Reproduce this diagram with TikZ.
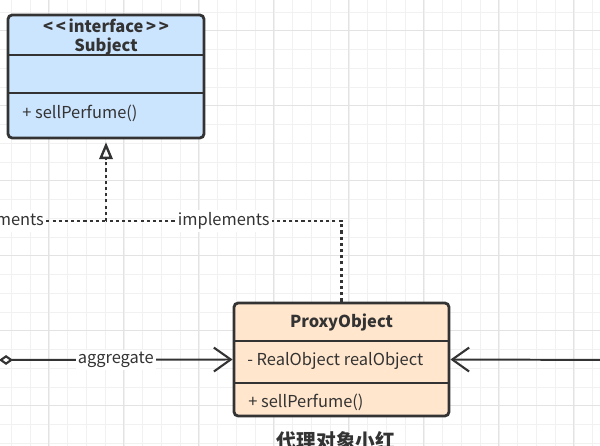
\documentclass[tikz,border=0pt]{standalone}
\usepackage{fontspec}
\setmainfont{Noto Sans CJK SC}
\usepackage{tikz}
\usetikzlibrary{arrows.meta, positioning, calc}

\definecolor{subjfill}{HTML}{CCE5FF}
\definecolor{proxyfill}{HTML}{FFE6CC}
\definecolor{edgegray}{HTML}{333333}
\definecolor{gridminor}{HTML}{F1F1F1}
\definecolor{gridmajor}{HTML}{E3E3E3}

\begin{document}
\begin{tikzpicture}[x=0.025cm, y=-0.025cm,
    umlbox/.style={draw=edgegray, line width=2pt, rounded corners=3pt, inner sep=0pt},
    txt/.style={text=edgegray, inner sep=0pt, font=\fontsize{11.7}{13}\selectfont},
    lbl/.style={txt, fill=white, inner sep=1.5pt},
    realize/.style={draw=edgegray, line width=1.6pt, dash pattern=on 2.2pt off 2.2pt},
    assoc/.style={draw=edgegray, line width=1.4pt}]
    \useasboundingbox (0,0) rectangle (600,446);

    % grid
    \begin{scope}
        \clip (0,0) rectangle (600,446);
        \fill[white] (0,0) rectangle (600,446);
        \foreach \x in {-7.25,11.5,...,600}
            \draw[gridminor, line width=0.5pt] (\x,0) -- (\x,446);
        \foreach \y in {-6.8,11.95,...,446}
            \draw[gridminor, line width=0.5pt] (0,\y) -- (600,\y);
        \foreach \x in {48.3,123.3,...,600}
            \draw[gridmajor, line width=0.6pt] (\x,0) -- (\x,446);
        \foreach \y in {30.7,105.7,...,446}
            \draw[gridmajor, line width=0.6pt] (0,\y) -- (600,\y);
    \end{scope}

    % interface Subject
    \node[umlbox, fill=subjfill, minimum width=4.9cm, minimum height=3.075cm] (subject) at (106,76.5) {};
    \draw[edgegray, line width=2pt] (8,55) -- (204,55);
    \draw[edgegray, line width=2pt] (8,93) -- (204,93);
    \node[txt, font=\fontsize{11.7}{13}\selectfont\bfseries] (stereo) at (106,26) {<\,<\,interface\,>\,>};
    \node[txt, font=\fontsize{11.7}{13}\selectfont\bfseries] (subjname) at (106,46) {Subject};
    \node[txt, anchor=west] (subjop) at (22,113) {+ sellPerfume()};

    % ProxyObject
    \node[umlbox, fill=proxyfill, minimum width=5.375cm, minimum height=2.825cm] (proxy) at (341.5,359.5) {};
    \draw[edgegray, line width=2pt] (234,341) -- (449,341);
    \draw[edgegray, line width=2pt] (234,383) -- (449,383);
    \node[txt, font=\fontsize{11.7}{13}\selectfont\bfseries] (proxyname) at (341.5,322) {ProxyObject};
    \node[txt, anchor=west] (proxyattr) at (247,361) {- RealObject realObject};
    \node[txt, anchor=west] (proxyop) at (248,402) {+ sellPerfume()};
    \node[txt, font=\fontsize{14}{16}\selectfont\bfseries] (proxycap) at (336,441) {代理对象小红};

    % implements
    \coordinate (junc) at (106,221);
    \node[lbl] (implA) at (-2,221) {implements};
    \draw[realize] (implA) -- (junc);
    \draw[realize] (proxy.north) |- (junc) node[lbl, pos=0.75] {implements};
    \draw[realize, shorten >=2pt, -{Triangle[open, length=12pt, width=9.5pt, line width=1.7pt]}] (junc) -- (subject.south);

    % aggregate
    \coordinate (aggsrc) at (-1,360);
    \draw[assoc, {Diamond[open, length=10pt, width=7pt, line width=1.5pt]}-{Straight Barb[length=12pt, width=17pt, line width=1.5pt]}]
        (aggsrc) -- (proxy.west) node[lbl, pos=0.5] {aggregate};

    % incoming from the right
    \coordinate (rgtsrc) at (620,360);
    \draw[assoc, -{Straight Barb[length=12pt, width=17pt, line width=1.5pt]}] (rgtsrc) -- (proxy.east);
\end{tikzpicture}
\end{document}
